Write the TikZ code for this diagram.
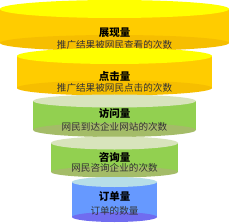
\documentclass[tikz,border=0pt]{standalone}
\usepackage{fontspec}
\newfontfamily\cjk{Noto Sans CJK SC}
\usepackage{tikz}
\usetikzlibrary{positioning}
\definecolor{goldlid}{RGB}{255,255,0}
\definecolor{goldbody}{RGB}{255,204,0}
\definecolor{goldfloor}{RGB}{246,190,0}
\definecolor{greenlid}{RGB}{216,228,188}
\definecolor{greenbody}{RGB}{146,208,80}
\definecolor{greenfloor}{RGB}{164,188,104}
\definecolor{bluelid}{RGB}{183,222,232}
\definecolor{bluebody}{RGB}{102,153,255}
\definecolor{bluefloor}{RGB}{112,108,240}
\definecolor{ink}{RGB}{51,51,51}
\tikzset{
  title/.style={font=\cjk\bfseries\fontsize{10.5}{12}\selectfont,text=black,inner sep=0pt},
  sub/.style={font=\cjk\fontsize{9.6}{11}\selectfont,text=ink,inner sep=0pt},
}

\begin{document}
\begin{tikzpicture}[x=1pt,y=1pt]
  \useasboundingbox (0,0) rectangle (229,222);
  % exposure
  \fill[goldbody] (0,213) rectangle (229,179);
  \fill[goldfloor] (114.5,179) ellipse[x radius=114.5,y radius=8];
  \fill[goldlid] (114.5,213) ellipse[x radius=114.5,y radius=9];
  \node[title] (t1) at (114.5,189) {展现量};
  \node[sub] (s1) at (114.5,177) {推广结果被网民查看的次数};
  % clicks
  \fill[goldbody] (17,166) rectangle (212,134);
  \fill[goldfloor] (114.5,134) ellipse[x radius=97.5,y radius=7.5];
  \fill[goldlid] (114.5,166) ellipse[x radius=97.5,y radius=8];
  \node[title] (t2) at (114.5,145) {点击量};
  \node[sub] (s2) at (114.5,134) {推广结果被网民点击的次数};
  % visits
  \fill[greenbody] (33,121) rectangle (196,92);
  \fill[greenfloor] (114.5,92) ellipse[x radius=81.5,y radius=7];
  \fill[greenlid] (114.5,121) ellipse[x radius=81.5,y radius=6.5];
  \node[title] (t3) at (114.5,109) {访问量};
  \node[sub] (s3) at (114.5,95) {网民到达企业网站的次数};
  % inquiries
  \fill[greenbody] (51,79) rectangle (178,50);
  \fill[greenfloor] (114.5,50) ellipse[x radius=63.5,y radius=5.5];
  \fill[greenlid] (114.5,79) ellipse[x radius=63.5,y radius=6.5];
  \node[title] (t4) at (114.5,65) {咨询量};
  \node[sub] (s4) at (114.5,54) {网民咨询企业的次数};
  % orders
  \fill[bluebody] (72,40) rectangle (157,5);
  \fill[bluefloor] (114.5,5) ellipse[x radius=42.5,y radius=5];
  \fill[bluelid] (114.5,40) ellipse[x radius=42.5,y radius=5];
  \node[title] (t5) at (114.5,25) {订单量};
  \node[sub] (s5) at (114.5,11) {订单的数量};
\end{tikzpicture}
\end{document}
